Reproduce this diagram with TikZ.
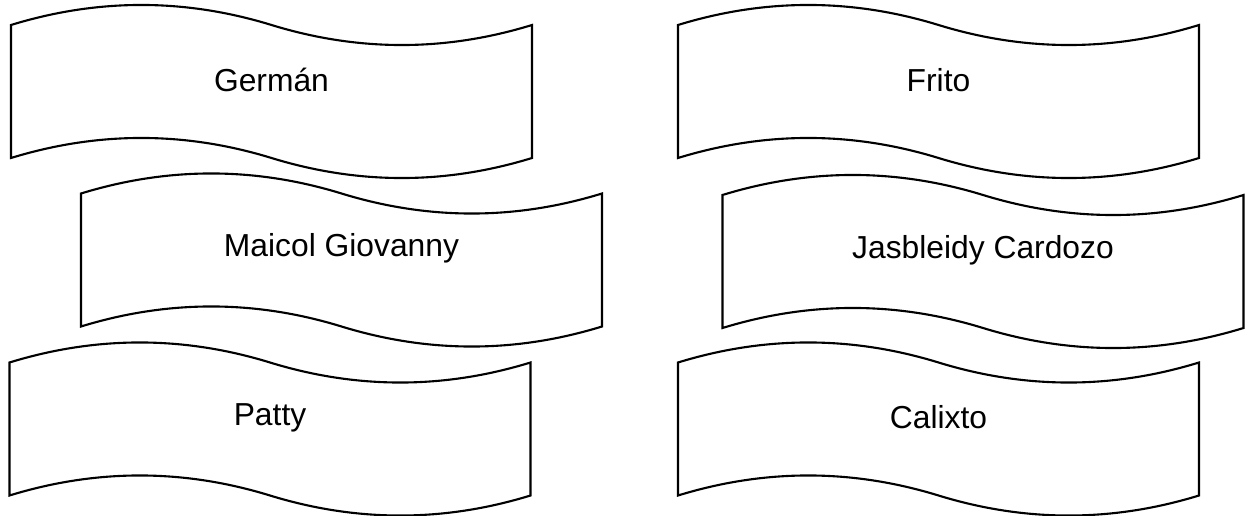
\documentclass[tikz,border=0pt]{standalone}
\usepackage{fontspec}
\setsansfont{Liberation Sans}
\usepackage{tikz}
\usetikzlibrary{calc}
\tikzset{
    tapeline/.style={
        draw=black, line width=1.2pt, fill=white, line join=miter
    },
    tapetext/.style={
        align=center, inner sep=0pt,
        font=\sffamily\fontsize{18.1}{21.7}\selectfont
    },
    %% wavy banner, 521 wide, corners 133 apart, origin = top-left corner
    tape/.pic={
        \draw[tapeline] (0,0)
            .. controls (86.8,-26.7) and (173.7,-26.7) .. (260.5,0)
            .. controls (347.3,26.7) and (434.2,26.7) .. (521,0)
            -- (521,133)
            .. controls (434.2,159.7) and (347.3,159.7) .. (260.5,133)
            .. controls (173.7,106.3) and (86.8,106.3) .. (0,133)
            -- cycle;
        \node[tapetext] (-txt) at (260.5,55) {#1};
    }
}

\begin{document}
\begin{tikzpicture}[x=0.02cm, y=-0.02cm]

%% page frame, same proportions as 1250 x 516
\useasboundingbox (0,0) rectangle (1250,516);

%% left column
\pic (german) at (11, 25)    {tape={Germán}};
\pic (maicol) at (81, 193.5) {tape={Maicol Giovanny}};
\pic (patty)  at (9.5, 362.5) {tape={Patty}};

%% right column
\pic (frito)     at (678, 25)    {tape={Frito}};
\pic (jasbleidy) at (722.5, 195) {tape={Jasbleidy Cardozo}};
\pic (calixto)   at (678, 362.5) {tape={Calixto}};

\end{tikzpicture}
\end{document}
